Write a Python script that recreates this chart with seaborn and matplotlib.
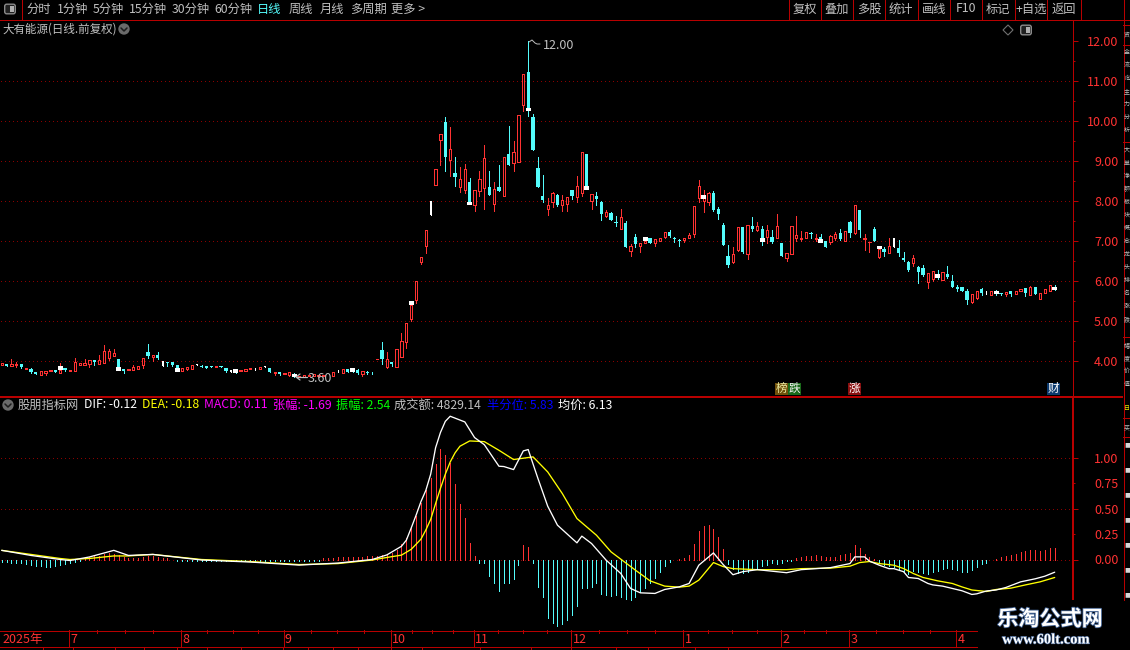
import matplotlib
matplotlib.use("Agg")
import matplotlib.pyplot as plt
import matplotlib.patheffects as pe
from matplotlib.patches import FancyBboxPatch, Circle, Rectangle, Polygon
import numpy as np
import pandas as pd
import seaborn as sns

opens = [3.91,3.92,3.88,3.89,3.92,3.80,3.80,3.73,3.66,3.71,
 3.75,3.78,3.71,3.82,3.76,3.76,3.91,3.89,3.93,4.03,
 3.93,3.96,4.08,4.13,4.05,3.79,3.77,3.78,3.80,3.91,
 4.22,4.11,4.15,3.88,3.97,3.98,3.89,3.76,3.81,3.81,
 3.89,3.88,3.88,3.875,3.86,3.875,3.82,3.72,3.80,3.76,
 3.75,3.79,3.78,3.81,3.84,3.83,3.70,3.72,3.67,3.66,
 3.67,3.61,3.61,3.62,3.63,3.63,3.62,3.64,3.63,3.73,
 3.71,3.79,3.83,3.78,3.68,3.72,3.70,4.05,4.28,3.86,
 3.98,3.86,4.11,4.48,5.05,5.53,6.48,6.87,7.66,8.39,
 9.52,9.98,9.02,8.70,8.34,8.28,8.48,7.89,8.24,8.32,
 8.35,7.92,8.35,8.12,9.18,8.94,8.97,10.39,11.23,10.10,
 8.83,8.12,7.79,7.97,8.16,7.89,7.92,8.28,8.09,8.20,
 9.18,7.99,8.12,7.98,7.63,7.71,7.48,7.31,7.44,6.75,
 7.09,6.875,6.96,7.07,6.96,7.0,7.10,7.225,7.07,7.02,
 7.025,7.08,7.18,8.08,8.01,7.98,8.2,7.79,7.4,6.625,
 6.475,6.775,7.35,6.68,7.375,7.275,7.3,7.1,7.1,7.08,
 6.94,6.58,6.68,7.075,7.05,7.08,7.19,7.05,7.1,7.0,
 6.975,7.075,7.2,7.0,7.48,7.2,7.78,7.05,6.97,7.31,
 6.61,6.8,6.7,6.84,6.83,6.58,6.48,6.45,6.36,6.33,
 5.98,6.06,6.18,6.03,6.18,6.01,5.85,5.85,5.75,5.475,
 5.58,5.8,5.67,5.66,5.75,5.7,5.67,5.75,5.67,5.74,
 5.825,5.64,5.85,5.56,5.69,5.76,5.85]
closes = [3.94,3.88,3.93,3.92,3.86,3.83,3.73,3.68,3.74,3.74,
 3.78,3.73,3.78,3.78,3.78,3.97,3.94,3.96,4.02,3.98,
 4.02,4.24,4.24,4.19,3.85,3.75,3.79,3.84,3.87,4.07,
 4.12,4.15,4.07,3.99,3.94,3.90,3.82,3.83,3.84,3.89,
 3.92,3.86,3.83,3.84,3.875,3.84,3.76,3.77,3.71,3.78,
 3.79,3.82,3.82,3.84,3.87,3.73,3.72,3.68,3.70,3.72,
 3.61,3.63,3.64,3.66,3.67,3.66,3.65,3.64,3.72,3.77,
 3.79,3.72,3.73,3.69,3.74,3.70,3.69,4.05,4.06,4.05,
 3.93,4.31,4.51,4.96,5.41,6.01,6.61,7.28,8.0,8.80,
 9.675,9.09,9.30,8.61,8.56,8.80,7.98,8.28,8.55,9.08,
 8.16,8.30,8.26,9.10,8.89,9.22,10.15,11.18,10.33,9.27,
 8.34,8.03,7.90,8.20,7.91,8.02,8.10,8.12,8.38,9.22,
 8.38,8.18,8.06,7.68,7.73,7.53,7.44,7.59,6.84,6.875,
 6.93,6.94,7.0,6.96,7.04,7.08,7.22,7.125,7.04,6.99,
 7.07,7.14,7.87,8.37,8.08,8.2,7.775,7.675,6.9,6.39,
 6.67,7.34,6.725,7.39,7.3,7.375,7.075,7.275,6.975,7.37,
 6.625,6.69,7.37,7.14,7.07,7.22,7.165,7.07,7.04,6.85,
 7.125,7.175,7.05,7.24,7.19,7.9,7.28,7.075,6.98,7.01,
 6.79,6.73,6.875,7.07,6.69,6.525,6.28,6.575,6.23,6.15,
 6.2,6.25,6.08,6.225,6.1,5.86,5.81,5.76,5.53,5.675,
 5.75,5.7,5.74,5.75,5.67,5.67,5.725,5.67,5.75,5.8,
 5.7,5.86,5.68,5.7,5.8,5.91,5.77]
highs = [3.96,3.92,4.04,3.98,3.92,3.83,3.83,3.73,3.74,3.74,
 3.78,3.78,3.94,3.82,3.78,4.08,3.94,4.04,4.02,4.03,
 4.15,4.40,4.29,4.29,4.05,3.79,3.79,3.89,3.87,4.07,
 4.43,4.15,4.23,3.99,3.97,3.98,3.89,3.83,3.84,3.89,
 3.92,3.89,3.88,3.875,3.875,3.875,3.82,3.77,3.80,3.78,
 3.79,3.82,3.82,3.84,3.87,3.83,3.72,3.72,3.70,3.72,
 3.71,3.63,3.64,3.66,3.67,3.66,3.65,3.65,3.72,3.77,
 3.79,3.79,3.83,3.81,3.74,3.75,3.72,4.05,4.48,4.23,
 3.98,4.31,4.70,4.96,5.41,6.01,6.61,7.28,8.0,8.80,
 9.675,10.10,9.85,9.11,8.85,8.93,8.58,8.28,8.76,9.40,
 8.76,8.48,8.91,9.10,9.88,9.50,10.15,11.18,12.0,10.18,
 9.11,8.66,8.08,8.23,8.18,8.16,8.10,8.28,8.63,9.22,
 9.18,8.18,8.23,8.0,7.78,7.73,7.63,7.79,7.49,6.92,
 7.17,6.94,7.0,7.07,7.04,7.08,7.22,7.275,7.10,7.06,
 7.07,7.2,7.87,8.525,8.27,8.225,8.24,7.85,7.45,6.9,
 6.84,7.34,7.35,7.39,7.6,7.475,7.375,7.4,7.275,7.675,
 6.94,6.69,7.37,7.625,7.25,7.22,7.225,7.175,7.175,7.0,
 7.15,7.23,7.3,7.24,7.5,7.9,7.78,7.18,6.98,7.36,
 6.79,6.84,7.075,7.07,7.03,6.72,6.51,6.65,6.38,6.41,
 6.2,6.25,6.275,6.225,6.38,6.16,5.89,5.85,5.79,5.675,
 5.75,5.83,5.74,5.75,5.78,5.7,5.725,5.75,5.76,5.8,
 5.825,5.875,5.85,5.7,5.8,5.91,5.9]
lows = [3.90,3.88,3.88,3.86,3.83,3.80,3.70,3.68,3.66,3.66,
 3.75,3.73,3.71,3.74,3.76,3.74,3.91,3.89,3.86,3.91,
 3.93,3.96,4.03,4.13,3.85,3.71,3.77,3.78,3.80,3.82,
 4.07,3.99,4.04,3.88,3.88,3.88,3.82,3.76,3.78,3.81,
 3.89,3.86,3.83,3.84,3.86,3.84,3.73,3.72,3.71,3.76,
 3.75,3.79,3.78,3.81,3.84,3.73,3.64,3.66,3.67,3.63,
 3.60,3.61,3.61,3.62,3.63,3.63,3.62,3.64,3.63,3.73,
 3.71,3.72,3.73,3.67,3.63,3.68,3.67,4.05,3.93,3.83,
 3.88,3.86,4.11,4.33,4.99,5.46,6.43,6.71,7.65,8.39,
 8.89,8.74,8.62,8.37,8.23,8.21,7.98,7.76,8.13,7.81,
 8.16,7.76,8.26,8.12,8.89,8.74,8.97,10.26,10.13,9.27,
 8.34,7.97,7.66,7.84,7.87,7.76,7.74,8.06,7.97,8.12,
 8.38,7.81,7.91,7.53,7.61,7.53,7.37,7.31,6.84,6.63,
 6.86,6.725,6.96,6.96,6.88,7.0,7.08,7.09,6.98,6.875,
 6.975,7.08,7.1,7.98,7.73,7.9,7.75,7.55,6.9,6.36,
 6.46,6.75,6.7,6.56,7.26,7.24,6.9,6.94,6.95,7.08,
 6.625,6.5,6.68,7.0,7.0,7.08,7.075,7.0,7.04,6.85,
 6.925,7.025,7.025,7.0,7.09,7.18,7.11,6.78,6.72,6.99,
 6.58,6.63,6.7,6.84,6.62,6.51,6.24,6.38,5.96,6.13,
 5.83,5.99,6.05,6.03,6.07,5.84,5.74,5.76,5.43,5.46,
 5.56,5.66,5.67,5.66,5.64,5.64,5.62,5.62,5.67,5.74,
 5.63,5.64,5.67,5.54,5.69,5.76,5.77]
white_bars = [33,40,47,52,54,67,69,88,183,202]
marker_bars = [12,24,36,48,60,72,84,96,108,120,132,144,156,168,180,192,204,216]
marker_low = [3.78,3.76,3.73,3.71,3.61,3.73,5.41,7.89,10.24,8.28,7.0,8.05,6.98,6.95,6.79,6.08,5.67,5.77]
marker_high = [3.88,3.85,3.82,3.80,3.67,3.83,5.51,7.98,10.33,8.38,7.09,8.15,7.08,7.04,6.88,6.18,5.75,5.85]

macd = [-.02,-.02,-.03,-.03,-.03,-.04,-.05,-.06,-.06,-.07,-.07,-.06,-.05,-.04,
 -.03,-.02,-.01,.01,.02,.03,.03,.05,.06,.05,.04,
 .02,.01,.01,.01,.02,.03,.03,.02,.01,.01,0,-.01,-.01,-.01,-.01,-.01,
 -.01,-.01,-.01,-.01,-.01,-.01,-.01,-.01,-.01,-.01,-.01,-.01,-.01,-.01,-.01,-.01,-.01,-.01,-.01,-.01,-.01,-.01,-.01,-.01,-.01,
 .01,.01,.01,.02,.02,.02,.02,.02,.02,.03,.03,.03,.04,.05,.06,.09,
 .148,.216,.315,.426,.557,.682,.803,.944,1.085,1.026,.951,.741,.544,.407,.164,.033,
 -.03,-.033,-.164,-.236,-.308,-.236,-.236,-.193,-.052,.141,.121,-.033,-.269,-.367,-.58,-.623,-.652,-.636,-.597,-.548,-.456,
 -.282,-.282,-.275,-.23,-.341,-.354,-.361,-.351,-.367,-.384,-.4,-.367,-.318,-.279,-.236,-.184,-.125,-.062,-.026,-.007,
 .007,.016,.043,.151,.279,.33,.34,.30,.22,.10,
 -.04,-.09,-.13,-.13,-.12,-.10,-.08,-.06,-.05,-.03,-.04,-.03,-.01,-.01,
 .01,.02,.03,.03,.04,.03,.02,.02,.02,.04,.05,.06,.14,.11,.05,.02,.007,
 -.03,-.055,-.06,-.072,-.089,-.11,-.138,-.11,-.12,-.13,-.144,-.12,-.115,-.09,-.08,-.098,-.105,-.12,-.12,-.105,-.072,-.046,-.03,-.007,
 .007,.023,.033,.043,.059,.075,.082,.095,.089,.082,.098,.111,.111]

dif_bar = [0,6,12,14,18,23,26,31,41,51,61,69,76,79,82,83,84,85,86,87,88,89,90,91,92,95,97,99,102,103,104,105,107,108,110,112,114,117,118,119,121,124,127,129,131,134,136,139,141,143,146,148,150,152,155,161,164,170,174,175,177,178,180,182,183,185,186,188,190,191,193,195,197,199,200,202,204,206,209,212,214,216]
dif_val = [.09,.04,0,-.01,.025,.09,.04,.05,-.005,-.025,-.055,-.035,0,.045,.13,.19,.31,.436,.57,.68,.84,1.10,1.25,1.36,1.41,1.354,1.20,1.13,.918,.915,.90,.885,1.069,1.082,.797,.525,.338,.207,.164,.23,.157,-.007,-.138,-.285,-.328,-.334,-.295,-.269,-.236,-.056,.065,-.05,-.15,-.12,-.10,-.13,-.10,-.08,-.04,.026,.026,-.016,-.056,-.09,-.09,-.12,-.177,-.187,-.236,-.25,-.262,-.285,-.308,-.344,-.338,-.31,-.30,-.275,-.22,-.19,-.164,-.125]
dea_bar = [0,6,12,14,18,23,26,31,41,51,61,69,76,79,82,84,86,87,88,89,90,91,92,93,94,96,99,102,105,109,112,115,118,122,125,130,133,136,139,141,143,146,148,150,155,161,164,170,174,176,178,180,183,185,187,189,192,195,197,199,202,204,207,210,213,216]
dea_val = [.09,.05,.01,0,.01,.035,.035,.05,0,-.02,-.05,-.04,-.005,.02,.043,.1,.2,.29,.395,.55,.70,.84,.96,1.05,1.115,1.167,1.16,1.075,.984,1.01,.862,.649,.403,.239,.075,-.105,-.21,-.262,-.272,-.262,-.203,-.03,-.07,-.09,-.10,-.10,-.09,-.085,-.066,-.03,-.02,-.04,-.056,-.089,-.138,-.177,-.21,-.236,-.27,-.30,-.315,-.295,-.282,-.25,-.22,-.177]

price_ticks = [4,5,6,7,8,9,10,11,12]
macd_ticks = [0,.25,.5,.75,1.0]
month_bars = [14,37,58,80,97,117,140,160,174,196]
month_labels = ['7','8','9','10','11','12','1','2','3','4']

assert len(opens)==len(closes)==len(highs)==len(lows)==217, (len(opens),len(closes),len(highs),len(lows))
assert len(macd)==217, len(macd)
assert len(dif_bar)==len(dif_val) and len(dea_bar)==len(dea_val),(len(dif_bar),len(dif_val),len(dea_bar),len(dea_val))

sns.set_theme(style="dark", rc={"axes.facecolor":"black","figure.facecolor":"black","savefig.facecolor":"black"})
plt.rcParams['font.family'] = ['Noto Sans CJK SC','DejaVu Sans']

RED='#ff3232'; DARK='#b80000'; CYAN='#54fcfc'; GRID='#8a0000'; GREY='#c0c0c0'
W,H=1130,650
fig=plt.figure(figsize=(W/100,H/100),dpi=100)
def axpx(l,t,r,b,**k):
    return fig.add_axes([l/W,1-b/H,(r-l)/W,(b-t)/H],**k)
XL=(-1.7/4.875,(1073-1.7)/4.875)

df=pd.DataFrame({'bar':np.arange(217),'o':opens,'c':closes,'h':highs,'l':lows,'macd':macd})
df['kind']=np.where(df.c>=df.o,'up','down')
df.loc[white_bars,'kind']='flat'

ax=axpx(0,20,1073,397)
ax.set_facecolor('black')
ax.set_xlim(*XL)
ax.set_ylim(12-(397-41)/40,12+(41-20)/40)
ax.hlines(price_ticks[:-1],XL[0]+.3,XL[1],colors=GRID,lw=.72,linestyles=[(0,(1,3.5))],antialiased=False,zorder=1)
for kind,col in (('up',RED),('down',CYAN),('flat','white')):
    d=df[df.kind==kind]
    ax.vlines(d.bar,d.l,d.h,colors=col,lw=.72,antialiased=False,zorder=2)
    lo=np.minimum(d.o,d.c); hi=np.maximum(d.o,d.c)
    if kind=='up':
        ax.bar(d.bar,hi-lo,bottom=lo,width=.46,facecolor='black',edgecolor=col,lw=.72,antialiased=False,zorder=3)
    elif kind=='down':
        ax.bar(d.bar,hi-lo,bottom=lo,width=.68,facecolor=col,edgecolor=col,lw=0,antialiased=False,zorder=3)
    else:
        ax.bar(d.bar,hi-lo,bottom=lo,width=.2,facecolor=col,edgecolor=col,lw=0,antialiased=False,zorder=3)
ax.bar(marker_bars,np.array(marker_high)-np.array(marker_low),bottom=marker_low,width=1.03,color='white',lw=0,antialiased=False,zorder=4)

ax.yaxis.tick_right()
ax.set_yticks(price_ticks)
ax.set_yticklabels([f'{v:.2f}' for v in price_ticks],color=RED,fontsize=9,ha='right')
ax.set_yticks(np.array(price_ticks[:-1])+.5,minor=True)
ax.tick_params(axis='y',which='major',color=DARK,length=3.6,width=.72,pad=29,right=True,left=False)
ax.tick_params(axis='y',which='minor',color=DARK,length=1.5,width=.72,right=True,left=False)
ax.set_xticks([]); ax.grid(False)
for s in ax.spines.values(): s.set_visible(False)

am=axpx(0,398,1073,630)
am.set_facecolor('black')
am.set_xlim(*XL)
am.set_ylim(-(630-559.5)/101.6,(559.5-398)/101.6)
am.hlines([0,.5,1.0],XL[0]+.3,XL[1],colors=GRID,lw=.72,linestyles=[(0,(1,3.5))],antialiased=False,zorder=1)
mv=np.array(macd)
am.vlines(df.bar[mv>=0],0,mv[mv>=0],colors=RED,lw=.72,antialiased=False,zorder=2)
am.vlines(df.bar[mv<0],0,mv[mv<0],colors=CYAN,lw=.72,antialiased=False,zorder=2)
sns.lineplot(x=dea_bar,y=dea_val,ax=am,color='#ffff00',lw=.95,estimator=None,sort=False,zorder=3)
sns.lineplot(x=dif_bar,y=dif_val,ax=am,color='white',lw=.95,estimator=None,sort=False,zorder=4)
am.yaxis.tick_right()
am.set_yticks(macd_ticks)
am.set_yticklabels([f'{v:.2f}' for v in macd_ticks],color=RED,fontsize=9,ha='right')
am.tick_params(axis='y',color=DARK,length=3.6,width=.72,pad=29,right=True,left=False)
for t,v in zip(am.yaxis.get_major_ticks(),macd_ticks):
    if v in (.25,.75): t.tick2line.set_markersize(1.5)
am.set_xticks([]); am.grid(False)
for s in am.spines.values(): s.set_visible(False)

at=axpx(0,630,978,647)
at.set_facecolor('black')
at.set_xlim(XL[0],XL[0]+978/4.875)
at.set_ylim(0,1)
mb=np.array(month_bars)-.15
at.vlines(mb[mb<at.get_xlim()[1]],0,1,colors=DARK,lw=.72,antialiased=False)
for a,b in zip(mb[:-1],mb[1:]):
    at.vlines(np.linspace(a,b,5)[1:-1] if b-a>15 else np.linspace(a,b,4)[1:-1],.85,1,colors=DARK,lw=.72,antialiased=False)
for m,l in zip(mb,month_labels):
    at.text(m+.25,.42,l,color=RED,fontsize=9,va='center',ha='left')
at.text(.1,.42,'2025年',color=RED,fontsize=9,va='center',ha='left')
at.axis('off')

ov=fig.add_axes([0,0,1,1],zorder=10)
ov.patch.set_alpha(0); ov.set_xlim(0,W); ov.set_ylim(H,0); ov.axis('off')
def hl(y,a,b,lw=.72,c=DARK): ov.plot([a,b],[y,y],color=c,lw=lw,antialiased=False,solid_capstyle='butt')
def vl(x,a,b,lw=.72,c=DARK): ov.plot([x,x],[a,b],color=c,lw=lw,antialiased=False,solid_capstyle='butt')
def T(x,y,s,c=GREY,fs=8.8,ha='left',**k): return ov.text(x,y,s,color=c,fontsize=fs,ha=ha,va='center',**k)

hl(19.5,0,1130); hl(397,0,1123,1.44); hl(630.5,0,978); hl(646.5,0,978)
vl(1072.5,20,397); vl(1072.5,397,600,1.44); vl(1123.5,0,600)
vl(21.5,0,19)
for x in [789,821,853,885,918,950,982,1015,1047,1081]: vl(x,0,19)
for y in [25,45,142,337,418,437]: hl(y,1123,1130)
for x in [43,73,115,144,177,207,241,283,308,333,358,391,422,480,531,571,616,648,695,728]:
    vl(x,647,650)

for x,s,c in [(26,'分时',GREY),(57,'1分钟',GREY),(93,'5分钟',GREY),(129,'15分钟',GREY),(172,'30分钟',GREY),(214,'60分钟',GREY),(257,'日线',CYAN),(289,'周线',GREY),(320,'月线',GREY),(350,'多周期',GREY),(391,'更多 >',GREY)]:
    T(x,9,s,c)
for x,s in [(805,'复权'),(837,'叠加'),(869,'多股'),(901,'统计'),(934,'画线'),(966,'F10'),(998,'标记'),(1031,'+自选'),(1064,'返回')]:
    T(x,9,s,GREY,ha='center')
def icon(cx,cy):
    ov.add_patch(FancyBboxPatch((cx-4.5,cy-4),9,8,boxstyle='round,pad=0.8,rounding_size=2',fc='#202020',ec='#8a8a8a',lw=1))
    ov.add_patch(Rectangle((cx,cy-3),3.5,6,fc='#b0b0b0',ec='none'))
icon(10,9); icon(1026,30)
ov.add_patch(Polygon([[1008,25],[1013,30],[1008,35],[1003,30]],closed=True,fc='none',ec='#707070',lw=.8))
def chev(cx,cy):
    ov.add_patch(Circle((cx,cy),5.7,fc='#6a6a6a',ec='none'))
    ov.plot([cx-3,cx,cx+3],[cy-1,cy+2,cy-1],color='#1c1c1c',lw=1.1)
T(2,29,'大有能源(日线.前复权)',GREY,fs=8.3); chev(134,29) if False else chev(124,29)
chev(8,405)
for x,s,c in [(18,'股朋指标网',GREY),(84,'DIF: -0.12','white'),(142,'DEA: -0.18','#ffff00'),(204,'MACD: 0.11','#ff00ff'),(273,'张幅: -1.69','#ff00ff'),(336,'振幅: 2.54','#00ff00'),(394,'成交额: 4829.14',GREY),(487,'半分位: 5.83','#0000ff'),(558,'均价: 6.13','white')]:
    T(x,405,s,c)

T(543,45.5,'12.00',GREY,fs=9)
ov.plot([529,532,535,537,540],[42,40,43,44,44],color=GREY,lw=.7)
T(308,378.5,'3.60',GREY,fs=9)
ov.plot([297,307],[377,377],color=GREY,lw=.9)
ov.plot([300,296,300],[374,377,380],color=GREY,lw=.9)

def tag(x0,x1,s,fc,tc='white'):
    ov.add_patch(Rectangle((x0,382.5),x1-x0,12,fc=fc,ec='none'))
    T((x0+x1)/2,388.3,s,tc,fs=8.4,ha='center')
tag(775,788,'榜','#70500a','#e8e8a0'); tag(788,801,'跌','#1a6a1a','#f0f0f0')
tag(848,861,'涨','#8a0f0f'); tag(1047,1060,'财','#0c3a6e')

side_ys = [35,52,65,78,91,104,117,130,150,163,176,189,202,215,228,241,254,267,280,293,306,319,345,358,371,384]
for y,s in zip(side_ys,'资金流向主力分析大单净额板块概念龙头排名涨跌幅度价值'):
    T(1124,y,s,GREY,fs=4.3)
T(1124,408,'日','#e8e800',fs=4.3)
T(1124,428,'买',GREY,fs=4.3)
for y in range(446,600,25):
    T(1124,y,'■','#d8d8d8',fs=4.3)

ov.add_patch(Rectangle((978,601),152,49,fc='black',ec='none',zorder=5))
ov.text(1050,619,'乐淘公式网',color='white',fontsize=15.2,fontweight='bold',ha='center',va='center',zorder=6,
        path_effects=[pe.withStroke(linewidth=1.2,foreground='#3a5a8a')])
ov.text(1046,640,'www.60lt.com',color='white',fontsize=10.5,fontweight='bold',family='Liberation Serif',ha='center',va='center',zorder=6,
        path_effects=[pe.withStroke(linewidth=.9,foreground='#3a5a8a')])

fig.savefig('out.png',dpi=100,facecolor='black')
